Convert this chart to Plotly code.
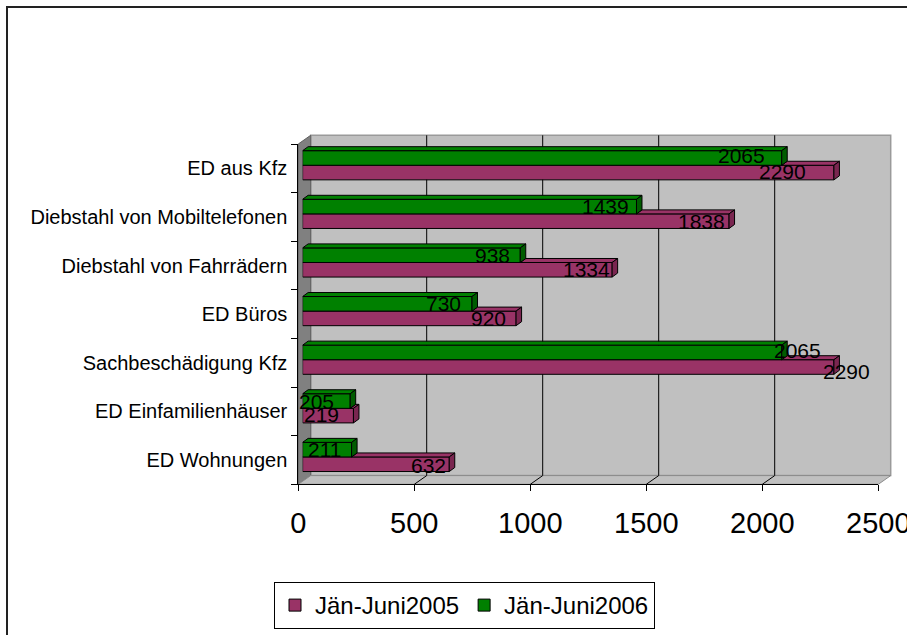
import plotly.graph_objects as go

# ---- data -------------------------------------------------------------
categories = [
    "ED Wohnungen",
    "ED Einfamilienhäuser",
    "Sachbeschädigung Kfz",
    "ED Büros",
    "Diebstahl von Fahrrädern",
    "Diebstahl von Mobiltelefonen",
    "ED aus Kfz",
]
series_names = ["Jän-Juni2005", "Jän-Juni2006"]
values_2005 = [632, 219, 2290, 920, 1334, 1838, 2290]
values_2006 = [211, 205, 2065, 730, 938, 1439, 2065]
x_ticks = [0, 500, 1000, 1500, 2000, 2500]

# ---- styling / layout constants ----------------------------------------
W, H = 907, 635
FONT = "Liberation Sans, Arial, sans-serif"
PINK, PINK_DARK = "#993366", "#7a2650"
GREEN, GREEN_DARK = "#008000", "#005c00"
WALL, WALL_SIDE = "#c0c0c0", "#808080"

# front plane of the 3-D box (pixels)
FX0, FX1 = 298.3, 878.3
FY0, FY1 = 144.0, 484.3
# depth offset of the back wall (pixels)
DEPTH_X, DEPTH_Y = 12.4, -8.7
# bars sit slightly behind the front plane
BAR_SHIFT = 0.35
# thickness of the bar's own 3-D faces (pixels)
FACE_X, FACE_Y = 5.5, 4.0

# label offsets in pixels (relative to the bar end / bar centre)
label_dx_2005 = [-1, -12, 38, -8, 0, -2, -26]
label_dx_2006 = [-9, -14, 41, -9, -8, -5, -15]
label_dy_2005 = [-1, 1, -4.5, 0, 0, 0, 1]
label_dy_2006 = [0, -0.6, 2, 0, 0, 0, 2]


def fx(px):
    return px / W


def fy(py):
    return 1 - py / H


x_max = x_ticks[-1]
px_per_unit = (FX1 - FX0) / x_max
n_cat = len(categories)
px_per_cat = (FY1 - FY0) / n_cat

bx0 = FX0 + BAR_SHIFT * DEPTH_X
by_shift = BAR_SHIFT * DEPTH_Y
face_dx = FACE_X / px_per_unit          # in data units
face_dy = FACE_Y / px_per_cat           # in category units

fig = go.Figure()

# empty trace so the front-plane axes are drawn
fig.add_trace(go.Scatter(x=[None], y=[None], xaxis="x", yaxis="y",
                         showlegend=False, hoverinfo="skip"))

positions = list(range(n_cat))
bar_w = 0.3
for name, vals, col in [(series_names[0], values_2005, PINK),
                        (series_names[1], values_2006, GREEN)]:
    fig.add_trace(go.Bar(
        x=vals, y=positions, orientation="h", name=name,
        marker=dict(color=col, line=dict(color="black", width=1)),
        xaxis="x2", yaxis="y2", hoverinfo="skip",
    ))


def faces(vals, lower_vals, offset, color):
    """Top and end faces of a series of 3-D bars.
    lower_vals: values of the bar drawn directly above (hides part of the top face)."""
    top_x, top_y, end_x, end_y = [], [], [], []
    for i, v in enumerate(vals):
        top = i + offset + bar_w / 2
        bot = i + offset - bar_w / 2
        start = 0 if lower_vals is None else min(lower_vals[i], v)
        if v > start:
            top_x += [start, v, v + face_dx, start + face_dx, start, None]
            top_y += [top, top, top + face_dy, top + face_dy, top, None]
        end_x += [v, v, v + face_dx, v + face_dx, v, None]
        end_y += [bot, top, top + face_dy, bot + face_dy, bot, None]
    return [
        go.Scatter(x=top_x, y=top_y, fill="toself", fillcolor=color,
                   mode="lines", line=dict(color="black", width=1),
                   xaxis="x2", yaxis="y2", hoverinfo="skip", showlegend=False),
        go.Scatter(x=end_x, y=end_y, fill="toself", fillcolor=color,
                   mode="lines", line=dict(color="black", width=1),
                   xaxis="x2", yaxis="y2", hoverinfo="skip", showlegend=False),
    ]


pink_faces = faces(values_2005, values_2006, -bar_w / 2, PINK)
pink_faces[1].fillcolor = PINK_DARK
green_faces = faces(values_2006, None, bar_w / 2, GREEN)
green_faces[1].fillcolor = GREEN_DARK
for tr in pink_faces + green_faces:
    fig.add_trace(tr)

# value labels
annotations = []
for vals, dxs, dys, off in [(values_2005, label_dx_2005, label_dy_2005, -bar_w / 2),
                            (values_2006, label_dx_2006, label_dy_2006, bar_w / 2)]:
    for i, v in enumerate(vals):
        annotations.append(dict(
            x=v, y=i + off, xref="x2", yref="y2", text=str(v),
            showarrow=False, xanchor="right", yanchor="middle",
            xshift=dxs[i], yshift=dys[i],
            font=dict(family=FONT, size=21, color="black"),
        ))

# ---- 3-D box: walls, floor, gridlines ------------------------------------
BX0, BX1 = FX0 + DEPTH_X, FX1 + DEPTH_X
BY0, BY1 = FY0 + DEPTH_Y, FY1 + DEPTH_Y


def poly(pts, close=True):
    p = "M " + " L ".join(f"{fx(x):.5f},{fy(y):.5f}" for x, y in pts)
    return p + " Z" if close else p


shapes = [
    # chart frame (left and top edges; the rest lies past the page edge)
    dict(type="path", xref="paper", yref="paper",
         path=poly([(7, H), (7, 7), (W, 7)], close=False),
         line=dict(color="#222222", width=2), layer="below"),
    # back wall
    dict(type="rect", xref="paper", yref="paper", x0=fx(BX0), y0=fy(BY1), x1=fx(BX1), y1=fy(BY0),
         fillcolor=WALL, line=dict(color="#9a9a9a", width=1.5), layer="below"),
    # side wall
    dict(type="path", xref="paper", yref="paper",
         path=poly([(FX0, FY0), (BX0, BY0), (BX0, BY1), (FX0, FY1)]),
         fillcolor=WALL_SIDE, line=dict(color="#606060", width=1), layer="below"),
    # floor
    dict(type="path", xref="paper", yref="paper",
         path=poly([(FX0, FY1), (BX0, BY1), (BX1, BY1), (FX1, FY1)]),
         fillcolor=WALL, line=dict(color="#8a8a8a", width=1), layer="below"),
]
for t in x_ticks[1:-1]:
    xb = BX0 + t * px_per_unit
    xf = FX0 + t * px_per_unit
    shapes.append(dict(type="line", xref="paper", yref="paper",
                       x0=fx(xb), y0=fy(BY1), x1=fx(xb), y1=fy(BY0),
                       line=dict(color="black", width=1), layer="below"))
    shapes.append(dict(type="line", xref="paper", yref="paper",
                       x0=fx(xf), y0=fy(FY1), x1=fx(xb), y1=fy(BY1),
                       line=dict(color="black", width=1), layer="below"))

fig.update_layout(
    width=W, height=H,
    margin=dict(l=0, r=0, t=0, b=0, autoexpand=False),
    paper_bgcolor="white",
    plot_bgcolor="rgba(0,0,0,0)",
    barmode="group", bargap=0.4, bargroupgap=0,
    font=dict(family=FONT, color="black"),
    shapes=shapes,
    annotations=annotations,
    hovermode=False,
    # front plane: value axis with tick labels
    xaxis=dict(domain=[fx(FX0), fx(FX1)], range=[0, x_max], anchor="y",
               tickvals=x_ticks, ticks="outside", ticklen=6, tickcolor="black",
               showline=True, linecolor="black", linewidth=1,
               showgrid=False, zeroline=False, automargin=False,
               tickfont=dict(family=FONT, size=29, color="black"),
               ticklabelstandoff=7, ticklabeloverflow="allow", fixedrange=True),
    # front plane: category axis
    yaxis=dict(domain=[fy(FY1), fy(FY0)], range=[-0.5, n_cat - 0.5], anchor="x",
               tickvals=positions, ticktext=categories, ticks="",
               minor=dict(tickvals=[i - 0.5 for i in range(n_cat + 1)],
                          ticks="outside", ticklen=6, tickcolor="black", showgrid=False),
               showline=True, linecolor="black", linewidth=1,
               showgrid=False, zeroline=False, automargin=False,
               tickfont=dict(family=FONT, size=20, color="black"),
               ticklabelstandoff=6, fixedrange=True),
    # bar plane, slightly behind the front
    xaxis2=dict(domain=[fx(bx0), fx(bx0 + FX1 - FX0)], range=[0, x_max], anchor="y2",
                visible=False, fixedrange=True, automargin=False),
    yaxis2=dict(domain=[fy(FY1 + by_shift), fy(FY0 + by_shift)], range=[-0.5, n_cat - 0.5],
                anchor="x2", visible=False, fixedrange=True, automargin=False),
    legend=dict(orientation="h", x=fx(274), xanchor="left", y=fy(582), yanchor="top",
                bordercolor="black", borderwidth=1, bgcolor="white",
                font=dict(family=FONT, size=24, color="black"),
                traceorder="normal", itemwidth=30),
)

# the last tick label runs past the right page edge: clip it there
clip_js = (
    "var gd=document.getElementById('{plot_id}');"
    "gd.style.overflow='hidden';"
    "document.body.style.overflow='hidden';"
    "document.documentElement.style.overflow='hidden';"
    "gd.querySelectorAll('svg.main-svg').forEach(function(s){s.style.overflow='hidden';});"
)

fig.write_html("out.html", post_script=clip_js)
